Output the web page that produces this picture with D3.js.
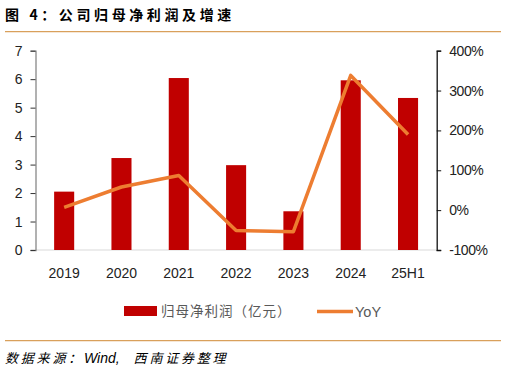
<!DOCTYPE html>
<html>
<head>
<meta charset="utf-8">
<script src="https://cdn.jsdelivr.net/npm/d3@7"></script>
<style>
  body { margin: 0; background: #fff; }
  svg { display: block; }
</style>
</head>
<body>
<div id="chart-container"></div>
<script>
// données
const years = ["2019", "2020", "2021", "2022", "2023", "2024", "25H1"];
const profit = [2.05, 3.23, 6.04, 2.98, 1.36, 5.96, 5.34];
const yoy = [7, 58, 87, -51, -54, 338, 190];
const leftTicks = [0, 1, 2, 3, 4, 5, 6, 7];
const rightTicks = [-100, 0, 100, 200, 300, 400];

const W = 506, H = 372;
const plot = { left: 35.5, right: 436.7, top: 50.7, bottom: 250 };
const cnFont = "'Noto Sans CJK SC', sans-serif";
const numFont = "'Liberation Sans', Arial, sans-serif";

const svg = d3.select("#chart-container")
  .append("svg")
  .attr("width", W)
  .attr("height", H);

// titre
svg.append("text")
  .attr("x", 5).attr("y", 19.5)
  .attr("font-family", cnFont)
  .attr("font-size", 14)
  .attr("font-weight", "bold")
  .attr("letter-spacing", 3.6)
  .attr("fill", "#000")
  .text("图 4：公司归母净利润及增速");

svg.append("line")
  .attr("x1", 5).attr("x2", 501)
  .attr("y1", 31.7).attr("y2", 31.7)
  .attr("stroke", "#d9a05b").attr("stroke-width", 1.3);

svg.append("line")
  .attr("x1", 5).attr("x2", 501)
  .attr("y1", 340.7).attr("y2", 340.7)
  .attr("stroke", "#d9a05b").attr("stroke-width", 1.3);

// source
const src = svg.append("text")
  .attr("x", 5).attr("y", 362.5)
  .attr("font-family", cnFont)
  .attr("font-size", 13)
  .attr("font-style", "italic")
  .attr("fill", "#000");
src.append("tspan").attr("letter-spacing", 2.8).text("数据来源：");
src.append("tspan")
  .attr("font-family", numFont)
  .attr("font-size", 14)
  .text("Wind, ");
src.append("tspan").attr("dx", 10).attr("letter-spacing", 2.8).text("西南证券整理");

// échelles
const x = d3.scaleBand().domain(years).range([plot.left, plot.right]).padding(0);
const y = d3.scaleLinear().domain([0, 7]).range([plot.bottom, plot.top]);
const y2 = d3.scaleLinear().domain([-100, 400]).range([plot.bottom, plot.top]);
const barW = x.bandwidth() * 0.35;

// axe X (ligne grise)
svg.append("line")
  .attr("x1", plot.left).attr("x2", plot.right)
  .attr("y1", plot.bottom).attr("y2", plot.bottom)
  .attr("stroke", "#d9d9d9").attr("stroke-width", 1);

// barres
svg.append("g")
  .selectAll("rect")
  .data(profit)
  .enter()
  .append("rect")
  .attr("x", (d, i) => x(years[i]) + x.bandwidth() / 2 - barW / 2)
  .attr("y", d => y(d))
  .attr("width", barW)
  .attr("height", d => plot.bottom - y(d))
  .attr("fill", "#c00000");

// axe gauche
const gl = svg.append("g")
  .attr("transform", `translate(${plot.left},0)`)
  .call(d3.axisLeft(y).tickValues(leftTicks).tickSize(5).tickPadding(8)
    .tickFormat(d3.format("d")));
gl.select(".domain").attr("stroke", "#888").attr("stroke-width", 1.3);
gl.selectAll(".tick line").attr("stroke", "#333");
gl.selectAll("text")
  .attr("font-family", numFont)
  .attr("font-size", 14)
  .attr("fill", "#222");

// axe droit
const gr = svg.append("g")
  .attr("transform", `translate(${plot.right},0)`)
  .call(d3.axisRight(y2).tickValues(rightTicks).tickSize(4.5).tickPadding(8)
    .tickFormat(d => d + "%"));
gr.select(".domain").attr("stroke", "#111").attr("stroke-width", 1.3);
gr.selectAll(".tick line").attr("stroke", "#111");
gr.selectAll("text")
  .attr("font-family", numFont)
  .attr("font-size", 14)
  .attr("letter-spacing", -0.4)
  .attr("fill", "#222");

// étiquettes X
svg.append("g")
  .selectAll("text")
  .data(years)
  .enter()
  .append("text")
  .attr("x", d => x(d) + x.bandwidth() / 2)
  .attr("y", 278)
  .attr("text-anchor", "middle")
  .attr("font-family", numFont)
  .attr("font-size", 14)
  .attr("fill", "#222")
  .text(d => d);

// ligne YoY
const line = d3.line()
  .x((d, i) => x(years[i]) + x.bandwidth() / 2)
  .y(d => y2(d));

svg.append("path")
  .datum(yoy)
  .attr("d", line)
  .attr("fill", "none")
  .attr("stroke", "#ed7d31")
  .attr("stroke-width", 3.5)
  .attr("stroke-linejoin", "round");

// légende
const lg = svg.append("g");
lg.append("rect")
  .attr("x", 124).attr("y", 306)
  .attr("width", 33).attr("height", 10)
  .attr("fill", "#c00000");
lg.append("text")
  .attr("x", 161).attr("y", 316)
  .attr("font-family", cnFont)
  .attr("font-size", 13.5)
  .attr("letter-spacing", 1)
  .attr("fill", "#595959")
  .text("归母净利润（亿元）");
lg.append("line")
  .attr("x1", 317).attr("x2", 353)
  .attr("y1", 311.5).attr("y2", 311.5)
  .attr("stroke", "#ed7d31").attr("stroke-width", 3.5);
lg.append("text")
  .attr("x", 355).attr("y", 317)
  .attr("font-family", numFont)
  .attr("font-size", 14.5)
  .attr("fill", "#595959")
  .text("YoY");
</script>
</body>
</html>
